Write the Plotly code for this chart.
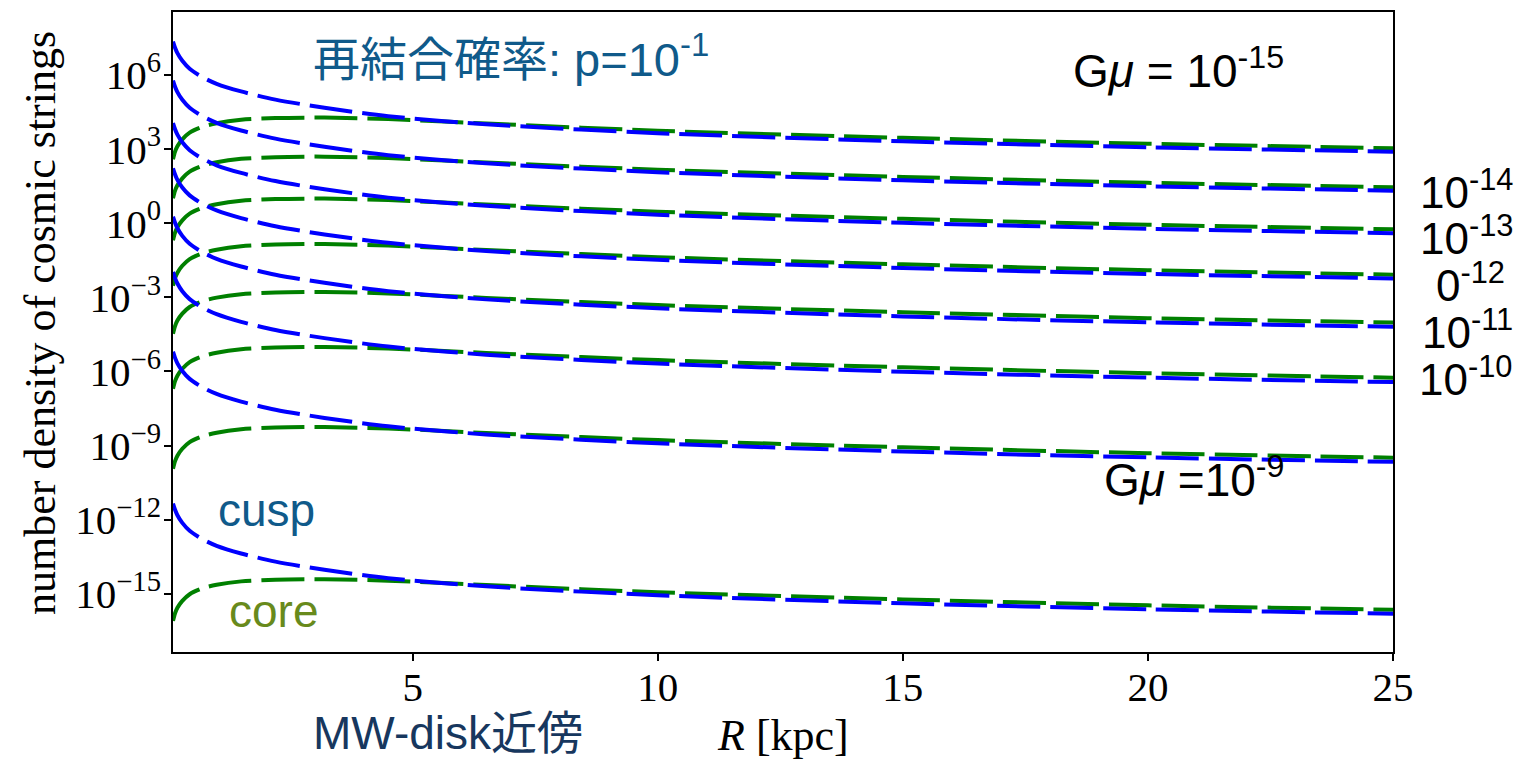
import plotly.graph_objects as go

# Galactocentric radius samples [kpc]
radius_kpc = [0.11, 0.15, 0.2, 0.3, 0.45, 0.7, 1.0, 1.5, 2.2, 3.2, 4.5, 6.5, 10.0, 15.0, 20.0, 25.0]

# log10 number density, cusp (NFW-like) halo, one list per string tension
cusp_gmu15 = [7.36, 7.12, 6.89, 6.58, 6.26, 5.93, 5.65, 5.34, 5.01, 4.68, 4.34, 4.01, 3.65, 3.32, 3.08, 2.90]
cusp_gmu14 = [5.78, 5.54, 5.31, 5.00, 4.68, 4.35, 4.07, 3.76, 3.43, 3.10, 2.76, 2.43, 2.07, 1.74, 1.50, 1.32]
cusp_gmu13 = [4.06, 3.82, 3.59, 3.28, 2.96, 2.63, 2.35, 2.04, 1.71, 1.38, 1.04, 0.71, 0.35, 0.02, -0.22, -0.40]
cusp_gmu12 = [2.23, 1.99, 1.76, 1.45, 1.13, 0.80, 0.52, 0.21, -0.12, -0.45, -0.79, -1.12, -1.48, -1.81, -2.05, -2.23]
cusp_gmu11 = [0.27, 0.03, -0.20, -0.51, -0.83, -1.16, -1.44, -1.75, -2.08, -2.41, -2.75, -3.08, -3.44, -3.77, -4.01, -4.19]
cusp_gmu10 = [-1.97, -2.21, -2.44, -2.75, -3.07, -3.40, -3.68, -3.99, -4.32, -4.65, -4.99, -5.32, -5.68, -6.01, -6.25, -6.43]
cusp_gmu9 = [-5.20, -5.44, -5.67, -5.98, -6.30, -6.63, -6.91, -7.22, -7.55, -7.88, -8.22, -8.55, -8.91, -9.24, -9.48, -9.66]
cusp_gmu8 = [-11.35, -11.59, -11.82, -12.13, -12.45, -12.78, -13.06, -13.37, -13.70, -14.03, -14.37, -14.70, -15.06, -15.39, -15.63, -15.81]

# log10 number density, cored halo
core_gmu15 = [2.59, 2.89, 3.12, 3.40, 3.67, 3.90, 4.05, 4.19, 4.26, 4.28, 4.22, 4.04, 3.75, 3.46, 3.22, 3.04]
core_gmu14 = [1.01, 1.31, 1.54, 1.82, 2.09, 2.32, 2.47, 2.61, 2.68, 2.70, 2.64, 2.46, 2.17, 1.88, 1.64, 1.46]
core_gmu13 = [-0.69, -0.39, -0.16, 0.12, 0.39, 0.62, 0.77, 0.91, 0.98, 1.00, 0.94, 0.76, 0.47, 0.18, -0.06, -0.24]
core_gmu12 = [-2.53, -2.23, -2.00, -1.72, -1.45, -1.22, -1.07, -0.93, -0.86, -0.84, -0.90, -1.08, -1.37, -1.66, -1.90, -2.08]
core_gmu11 = [-4.47, -4.17, -3.94, -3.66, -3.39, -3.16, -3.01, -2.87, -2.80, -2.78, -2.84, -3.02, -3.31, -3.60, -3.84, -4.02]
core_gmu10 = [-6.70, -6.40, -6.17, -5.89, -5.62, -5.39, -5.24, -5.10, -5.03, -5.01, -5.07, -5.25, -5.54, -5.83, -6.07, -6.25]
core_gmu9 = [-9.94, -9.64, -9.41, -9.13, -8.86, -8.63, -8.48, -8.34, -8.27, -8.25, -8.31, -8.49, -8.78, -9.07, -9.31, -9.49]
core_gmu8 = [-16.10, -15.80, -15.57, -15.29, -15.02, -14.79, -14.64, -14.50, -14.43, -14.41, -14.47, -14.65, -14.94, -15.23, -15.47, -15.65]

cusp_series = [cusp_gmu15, cusp_gmu14, cusp_gmu13, cusp_gmu12, cusp_gmu11, cusp_gmu10, cusp_gmu9, cusp_gmu8]
core_series = [core_gmu15, core_gmu14, core_gmu13, core_gmu12, core_gmu11, core_gmu10, core_gmu9, core_gmu8]
tension_exponents = [-15, -14, -13, -12, -11, -10, -9, -8]

# y-axis decades that carry a label
y_tick_exponents = [6, 3, 0, -3, -6, -9, -12, -15]
x_tick_values = [5, 10, 15, 20, 25]

BLUE = "#0000ff"
GREEN = "#008000"
DASH = "43px,10px"

fig = go.Figure()

# cored profiles first so the cusp curves sit on top where they cross
for exp, logn in zip(tension_exponents, core_series):
    fig.add_trace(go.Scatter(
        x=radius_kpc, y=[10 ** v for v in logn], mode="lines",
        line=dict(color=GREEN, width=4, dash=DASH, shape="spline", smoothing=0.8),
        name=f"core Gμ=1e{exp}", hoverinfo="skip"))
for exp, logn in zip(tension_exponents, cusp_series):
    fig.add_trace(go.Scatter(
        x=radius_kpc, y=[10 ** v for v in logn], mode="lines",
        line=dict(color=BLUE, width=4, dash=DASH, shape="spline", smoothing=0.8),
        name=f"cusp Gμ=1e{exp}", hoverinfo="skip"))

SERIF = "Liberation Serif, DejaVu Serif, serif"
SANS = "Liberation Sans, Noto Sans CJK JP, sans-serif"

axis_common = dict(
    showgrid=False, zeroline=False, showline=True, mirror=True,
    linecolor="black", linewidth=1.5, ticks="outside", ticklen=7,
    tickwidth=1.5, tickcolor="black",
    tickfont=dict(family=SERIF, size=41, color="black"),
)

fig.update_xaxes(range=[0.11, 25], tickvals=x_tick_values,
                 ticktext=[str(v) for v in x_tick_values],
                 ticklabelstandoff=-9, **axis_common)
fig.update_yaxes(type="log", range=[-17.36, 8.557],
                 tickvals=[10.0 ** e for e in y_tick_exponents],
                 ticktext=[f"10<sup>{'−' if e < 0 else ''}{abs(e)}</sup>" for e in y_tick_exponents],
                 ticklabelstandoff=-5, **axis_common)

L, R_, T, B = 173, 131, 10, 108
W, H = 1524, 760
PW, PH = W - L - R_, H - T - B


def px(x):
    return (x - L) / PW


def py(y):
    return (H - B - y) / PH


def label(text, x, y, size, color="black", family=SANS, xanchor="left", angle=0):
    fig.add_annotation(text=text, x=px(x), y=py(y), xref="paper", yref="paper",
                       xanchor=xanchor, yanchor="middle", showarrow=False,
                       textangle=angle, font=dict(family=family, size=size, color=color))


label("再結合確率: p=10<sup>-1</sup>", 311, 54, 47, color="#105a8a")
label("G<i>μ</i> = 10<sup>-15</sup>", 1071, 66, 46)
label("10<sup>-14</sup>", 1418, 188, 44)
label("10<sup>-13</sup>", 1418, 234, 44)
label("0<sup>-12</sup>", 1434, 281, 44)
label("10<sup>-11</sup>", 1420, 328, 44)
label("10<sup>-10</sup>", 1417, 376, 44)
label("G<i>μ</i> =10<sup>-9</sup>", 1102, 476, 46)
label("cusp", 216, 510, 46, color="#105a8a")
label("core", 227, 611, 46, color="#688a1c")
label("MW-disk近傍", 311, 733, 46, color="#17375e")

label("<i>R</i> [kpc]", 783, 736, 44, family=SERIF, xanchor="center")
label("number density of cosmic strings", 40, 322, 44, family=SERIF,
      xanchor="center", angle=-90)

fig.update_layout(width=W, height=H, margin=dict(l=L, r=R_, t=T, b=B),
                  plot_bgcolor="white", paper_bgcolor="white", showlegend=False)

fig.write_html("out.html")
